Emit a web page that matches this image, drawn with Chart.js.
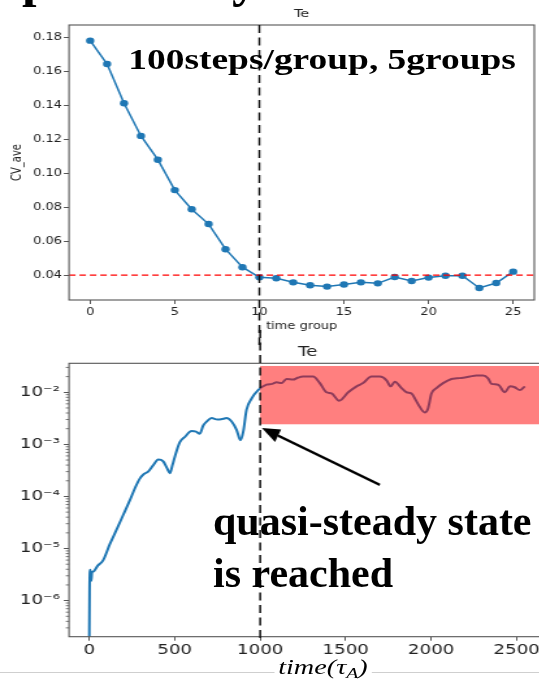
<!DOCTYPE html>
<html>
<head>
<meta charset="utf-8">
<script src="https://cdn.jsdelivr.net/npm/chart.js@4.4.0/dist/chart.umd.min.js"></script>
<style>
  html, body { margin: 0; padding: 0; background: #fff; }
  body { width: 539px; height: 684px; overflow: hidden; position: relative; }
  /* the slide picture is stretched sideways, so the whole chart stage is too */
  #stage { position: absolute; left: 0; top: 0; width: 415px; height: 684px; transform: scaleX(1.3); transform-origin: 0 0; }
  #cvChart { position: absolute; left: 0; top: 0; }
  #teChart { position: absolute; left: 0; top: 330px; }
  .serif { font-family: "Liberation Serif", "Times New Roman", serif; color: #000; position: absolute; white-space: nowrap; line-height: 1; }
  #steps { left: 98.7px; top: 45.2px; font-size: 28.8px; font-weight: bold; }
  #timeLabel { left: 211px; top: 656.8px; font-size: 21.7px; font-style: italic; background: #fff; padding: 0 3px; }
  #timeLabel span { font-size: 0.7em; position: relative; top: 0.3em; }
  #slideLine { position: absolute; left: 0; top: 671.5px; width: 539px; height: 1px; background: #cfcfcf; }
  #note { left: 213px; top: 499.8px; font-size: 42px; font-weight: bold; }
  #note2 { left: 213px; top: 551.5px; font-size: 42px; font-weight: bold; }
  .frag { font-size: 52px; font-weight: bold; top: -47px; }
</style>
</head>
<body>
<div class="serif frag" style="left:22px">p</div>
<div class="serif frag" style="left:232px">y</div>
<div id="slideLine"></div>
<div id="stage">
  <canvas id="cvChart" width="415" height="345"></canvas>
  <canvas id="teChart" width="425" height="354"></canvas>
  <div id="steps" class="serif">100steps/group, 5groups</div>
  <div id="timeLabel" class="serif">time(τ<span>A</span>)</div>
</div>
<div id="note" class="serif">quasi-steady state</div>
<div id="note2" class="serif">is reached</div>

<script>
// top panel: CV average per time group
const groups = [0, 1, 2, 3, 4, 5, 6, 7, 8, 9, 10, 11, 12, 13, 14, 15, 16, 17, 18, 19, 20, 21, 22, 23, 24, 25];
const cvAve = [0.178, 0.1642, 0.1411, 0.1219, 0.1079, 0.0900, 0.0787, 0.0700, 0.0552, 0.0446,
  0.0387, 0.0381, 0.0357, 0.0340, 0.0332, 0.0344, 0.0357, 0.0351, 0.0388, 0.0365,
  0.0385, 0.0396, 0.0396, 0.0324, 0.0353, 0.0420];
const cvTarget = 0.04;
const groupTicks = [0, 5, 10, 15, 20, 25];
const cvTicks = [0.04, 0.06, 0.08, 0.10, 0.12, 0.14, 0.16, 0.18];
const groupRange = [-1.25, 26.25];
const cvRange = [0.0253, 0.1872];
const steadyGroup = 10;

// bottom panel: Te amplitude against time
const timeSteps = [0, 2, 5, 8, 12, 16, 23, 50, 82, 120, 160, 200, 238, 270, 296, 320, 345, 375, 404, 433,
  455, 472, 487, 501, 530, 560, 599, 625, 647, 667, 690, 716, 750, 784, 803, 833, 862, 885, 901, 920,
  950, 988, 1037, 1070, 1096, 1125, 1154, 1193, 1220, 1251, 1271, 1310, 1349, 1388, 1418, 1462, 1515, 1564, 1602, 1651, 1700, 1739, 1763,
  1788, 1827, 1856, 1885, 1915, 1934, 1963, 1982, 2002, 2031, 2070, 2119, 2150, 2187, 2226, 2265, 2304, 2333, 2353, 2392, 2431,
  2460, 2489, 2519, 2548];
const teAmp = [1e-7, 1.4e-6, 3.9e-6, 3.5e-6, 2.4e-6, 3.5e-6, 3.6e-6, 4.7e-6, 6.0e-6, 1.2e-5, 2.3e-5, 4.5e-5, 8.5e-5, 1.5e-4, 2.2e-4, 2.7e-4, 3.0e-4, 4.0e-4, 5.1e-4, 4.7e-4,
  3.5e-4, 2.8e-4, 4.0e-4, 5.8e-4, 1.1e-3, 1.4e-3, 1.8e-3, 1.75e-3, 1.6e-3, 2.3e-3, 2.8e-3, 3.2e-3, 3.0e-3, 3.1e-3, 3.2e-3, 2.75e-3, 1.9e-3, 1.2e-3, 1.75e-3, 4.6e-3,
  7.6e-3, 1.1e-2, 1.4e-2, 1.45e-2, 1.55e-2, 1.5e-2, 1.8e-2, 1.75e-2, 1.9e-2, 2.0e-2, 2.0e-2, 2.0e-2, 1.5e-2, 1.0e-2, 9.5e-3, 6.9e-3, 1.0e-2, 1.3e-2, 1.5e-2, 2.0e-2, 2.0e-2, 1.7e-2, 1.3e-2,
  1.6e-2, 1.2e-2, 1.0e-2, 9.5e-3, 6.6e-3, 5.2e-3, 4.1e-3, 4.9e-3, 9.5e-3, 1.2e-2, 1.5e-2, 1.8e-2, 1.85e-2, 1.9e-2, 2.0e-2, 2.1e-2, 2.1e-2, 1.85e-2, 1.45e-2, 1.4e-2, 1.0e-2,
  1.3e-2, 1.25e-2, 1.1e-2, 1.3e-2];
const timeTicks = [0, 500, 1000, 1500, 2000, 2500];
const decadeTicks = [1e-6, 1e-5, 1e-4, 1e-3, 1e-2];
const timeRange = [-118, 2675];
const teRange = [2.03e-7, 0.036];
const steadyTime = 1000;
const steadyBand = [2.43e-3, 0.032];
const arrowFrom = [1700, 1.66e-4];
const arrowTo = [1010, 2.07e-3];

const STRETCH = 1.3;
const BLUE = '#1f77b4';
const SPINE = '#555';
const TEXT = '#222';

Chart.defaults.font.family = 'DejaVu Sans';
Chart.defaults.color = TEXT;

const SUP = { '-': '\u207B', '0': '\u2070', '1': '\u00B9', '2': '\u00B2', '3': '\u00B3', '4': '\u2074', '5': '\u2075', '6': '\u2076', '7': '\u2077', '8': '\u2078', '9': '\u2079' };
function powLabel(v) {
  const e = String(Math.round(Math.log10(v)));
  return '10' + e.split('').map(c => SUP[c]).join('');
}

// axes box, like matplotlib spines
const frame = {
  id: 'frame',
  afterDraw(chart) {
    const { ctx, chartArea: a } = chart;
    ctx.save();
    ctx.strokeStyle = SPINE;
    ctx.lineWidth = 1.1;
    ctx.strokeRect(a.left, a.top, a.right - a.left, a.bottom - a.top);
    ctx.restore();
  }
};

// black dashed line where the steady state starts
const steadyLine = {
  id: 'steadyLine',
  afterDraw(chart, args, o) {
    const { ctx, chartArea: a } = chart;
    const x = chart.scales.x.getPixelForValue(o.at);
    ctx.save();
    ctx.strokeStyle = '#111';
    ctx.lineWidth = 1.5;
    ctx.setLineDash([8, 4.5]);
    ctx.beginPath();
    ctx.moveTo(x, o.fromTop ? 0 : a.top);
    ctx.lineTo(x, o.toBottom ? chart.height : a.bottom + 3);
    ctx.stroke();
    ctx.restore();
  }
};

// red band, arrow and minor log ticks for the lower panel
const teExtras = {
  id: 'teExtras',
  afterDatasetsDraw(chart) {
    const { ctx } = chart;
    const xs = chart.scales.x, ys = chart.scales.y;
    const x0 = xs.getPixelForValue(steadyTime);
    const yTop = ys.getPixelForValue(steadyBand[1]);
    const yBot = ys.getPixelForValue(steadyBand[0]);
    ctx.save();
    ctx.fillStyle = 'rgba(255, 0, 0, 0.5)';
    ctx.fillRect(x0, yTop, chart.width - x0, yBot - yTop);
    ctx.restore();
  },
  afterDraw(chart) {
    const { ctx, chartArea: a } = chart;
    const xs = chart.scales.x, ys = chart.scales.y;
    ctx.save();
    ctx.strokeStyle = SPINE;
    ctx.lineWidth = 0.8;
    for (let d = 1e-7; d < 1e-1; d *= 10) {
      for (let k = 2; k <= 9; k++) {
        const v = k * d;
        if (v < teRange[0] || v > teRange[1]) continue;
        const y = ys.getPixelForValue(v);
        ctx.beginPath();
        ctx.moveTo(a.left - 2.5, y);
        ctx.lineTo(a.left, y);
        ctx.stroke();
      }
    }
    ctx.restore();

    // arrow drawn in unstretched space so the head keeps its shape
    ctx.save();
    ctx.scale(1 / STRETCH, 1);
    const tx = xs.getPixelForValue(arrowTo[0]) * STRETCH, ty = ys.getPixelForValue(arrowTo[1]);
    const fx = xs.getPixelForValue(arrowFrom[0]) * STRETCH, fy = ys.getPixelForValue(arrowFrom[1]);
    const ang = Math.atan2(ty - fy, tx - fx);
    const hl = 18, hw = 7;
    const bx = tx - hl * Math.cos(ang), by = ty - hl * Math.sin(ang);
    ctx.strokeStyle = '#000';
    ctx.fillStyle = '#000';
    ctx.lineWidth = 2.5;
    ctx.beginPath();
    ctx.moveTo(fx, fy);
    ctx.lineTo(bx, by);
    ctx.stroke();
    ctx.beginPath();
    ctx.moveTo(tx, ty);
    ctx.lineTo(bx + hw * Math.sin(ang), by - hw * Math.cos(ang));
    ctx.lineTo(bx - hw * Math.sin(ang), by + hw * Math.cos(ang));
    ctx.closePath();
    ctx.fill();
    ctx.restore();
  }
};

const tickGrid = { display: true, drawOnChartArea: false, drawTicks: true, tickLength: 4, color: SPINE, tickColor: SPINE };

new Chart(document.getElementById('cvChart'), {
  type: 'line',
  data: {
    datasets: [
      {
        data: groupRange.map(g => ({ x: g, y: cvTarget })),
        borderColor: '#ff0000',
        borderWidth: 1.3,
        borderDash: [5, 3],
        pointRadius: 0,
        order: 0
      },
      {
        data: groups.map((g, i) => ({ x: g, y: cvAve[i] })),
        borderColor: BLUE,
        backgroundColor: BLUE,
        borderWidth: 1.5,
        pointRadius: 3.2,
        pointBorderWidth: 0,
        order: 1
      }
    ]
  },
  options: {
    responsive: false,
    animation: false,
    layout: { padding: { left: 0, right: 2.7, top: 0, bottom: 0 } },
    plugins: {
      legend: { display: false },
      tooltip: { enabled: false },
      title: { display: true, text: 'Te', fullSize: false, color: TEXT, font: { size: 11, weight: 'normal' }, padding: { top: 7.4, bottom: 4.4 } },
      steadyLine: { at: steadyGroup, fromTop: false, toBottom: true }
    },
    scales: {
      x: {
        type: 'linear', min: groupRange[0], max: groupRange[1],
        afterBuildTicks: s => { s.ticks = groupTicks.map(v => ({ value: v })); },
        afterFit: s => { s.height = 45; },
        grid: tickGrid,
        border: { display: false },
        ticks: { font: { size: 10 }, padding: 2.3, maxRotation: 0, callback: v => String(v) },
        title: { display: true, text: 'time group', font: { size: 10 }, padding: { top: 0, bottom: 12.3 } }
      },
      y: {
        type: 'linear', min: cvRange[0], max: cvRange[1],
        afterBuildTicks: s => { s.ticks = cvTicks.map(v => ({ value: v })); },
        afterFit: s => { s.width = 53.1; },
        grid: tickGrid,
        border: { display: false },
        ticks: { font: { size: 10 }, padding: 1.4, callback: v => v.toFixed(2) },
        title: { display: true, text: 'CV_ave', font: { size: 10 }, padding: { top: 7.8, bottom: 0 } }
      }
    }
  },
  plugins: [frame, steadyLine]
});

new Chart(document.getElementById('teChart'), {
  type: 'line',
  data: {
    datasets: [{
      data: timeSteps.map((t, i) => ({ x: t, y: teAmp[i] })),
      borderColor: BLUE,
      borderWidth: 2,
      pointRadius: 0,
      cubicInterpolationMode: 'monotone'
    }]
  },
  options: {
    responsive: false,
    animation: false,
    layout: { padding: { left: 0, right: 4.6, top: 0, bottom: 0 } },
    plugins: {
      legend: { display: false },
      tooltip: { enabled: false },
      title: { display: true, text: 'Te', fullSize: false, color: TEXT, font: { size: 14, weight: 'normal' }, padding: { top: 13.6, bottom: 2.9 } },
      steadyLine: { at: steadyTime, fromTop: true, toBottom: false }
    },
    scales: {
      x: {
        type: 'linear', min: timeRange[0], max: timeRange[1],
        afterBuildTicks: s => { s.ticks = timeTicks.map(v => ({ value: v })); },
        afterFit: s => { s.height = 47.3; },
        grid: tickGrid,
        border: { display: false },
        ticks: { font: { size: 14 }, padding: 1, maxRotation: 0, callback: v => String(v) }
      },
      y: {
        type: 'logarithmic', min: teRange[0], max: teRange[1],
        afterBuildTicks: s => { s.ticks = decadeTicks.map(v => ({ value: v })); },
        afterFit: s => { s.width = 53.1; },
        grid: tickGrid,
        border: { display: false },
        ticks: { font: { size: 14 }, padding: 3, callback: v => powLabel(v) }
      }
    }
  },
  plugins: [frame, teExtras, steadyLine]
});
</script>
</body>
</html>
